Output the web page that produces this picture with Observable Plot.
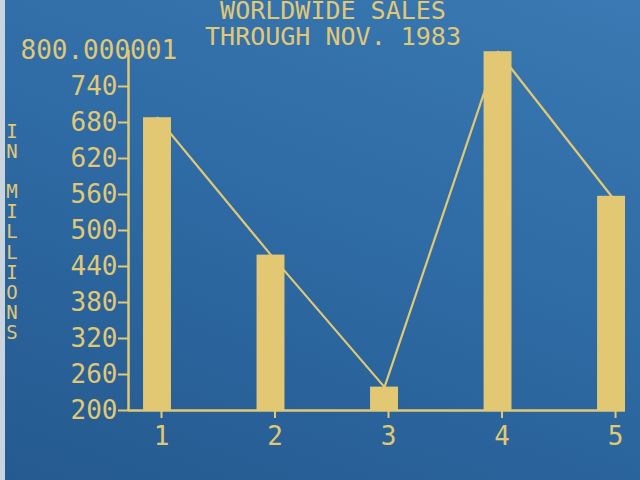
<!DOCTYPE html>
<html>
<head>
<meta charset="utf-8">
<script src="https://cdn.jsdelivr.net/npm/d3@7"></script>
<script src="https://cdn.jsdelivr.net/npm/@observablehq/plot@0.6"></script>
<style>
  html, body { margin: 0; padding: 0; }
  #wrap {
    position: relative; width: 640px; height: 480px; overflow: hidden;
    background: linear-gradient(200deg, #3a79b3 0%, #2f6ba5 45%, #245a8f 100%);
    font-family: "DejaVu Sans Mono", monospace; color: #e2c873;
  }
  #edge { position: absolute; left: 0; top: 0; width: 5px; height: 480px; background: #c9d4de; }
  #chart { position: absolute; left: 0; top: 0; }
  .title { position: absolute; left: 333px; transform: translateX(-50%); font-size: 25px; line-height: 25px; white-space: pre; }
  #ylab { position: absolute; left: 5px; top: 121px; font-size: 19px; line-height: 20.1px; white-space: pre; text-align: center; width: 14px; }
</style>
</head>
<body>
<div id="wrap">
  <div id="edge"></div>
  <div id="chart"></div>
  <div class="title" id="t1" style="top:-2px"></div>
  <div class="title" id="t2" style="top:24px"></div>
  <div id="ylab"></div>
</div>
<script>
const titleLines = ["WORLDWIDE SALES", "THROUGH NOV. 1983"];
const yLabel = "IN MILLIONS";
const categories = [1, 2, 3, 4, 5];
const sales = [688, 459, 239, 798, 557];
const yTicks = [200, 260, 320, 380, 440, 500, 560, 620, 680, 740];
const yTopValue = 800;
const yTopLabel = "800.000001";

const yellow = "#e2c873";
const data = categories.map((c, i) => ({cat: c, value: sales[i]}));
const half = 0.123;
const xmin = 0.7445, xmax = 5.123;

const chart = Plot.plot({
  width: 640,
  height: 480,
  marginLeft: 128,
  marginRight: 15,
  marginTop: 50,
  marginBottom: 70,
  style: {background: "transparent", color: yellow, fontFamily: "DejaVu Sans Mono, monospace"},
  x: {domain: [xmin, xmax], axis: null},
  y: {domain: [200, yTopValue], axis: null},
  marks: [
    Plot.rectY(data, {x1: d => d.cat - half, x2: d => d.cat + half, y1: 200, y2: "value", fill: yellow}),
    Plot.line(data, {x: "cat", y: "value", stroke: yellow, strokeWidth: 2.2}),
    Plot.ruleY([200], {stroke: yellow, strokeWidth: 2.5}),
    Plot.ruleX([xmin], {stroke: yellow, strokeWidth: 2.5}),
    Plot.axisY(yTicks, {label: null, tickSize: 10, tickPadding: 1, fontSize: 26, stroke: yellow, fill: yellow, strokeWidth: 2, tickFormat: "d"}),
    Plot.axisX(categories, {label: null, tickSize: 8, tickPadding: 8, fontSize: 26, stroke: yellow, fill: yellow, strokeWidth: 2, dx: 4, tickFormat: "d"}),
    Plot.text([yTopValue], {y: d => d, text: () => yTopLabel, frameAnchor: "left", textAnchor: "start", dx: -108, fontSize: 26, fill: yellow})
  ]
});
document.getElementById("chart").appendChild(chart);
document.getElementById("t1").textContent = titleLines[0];
document.getElementById("t2").textContent = titleLines[1];
document.getElementById("ylab").textContent = yLabel.split("").join("\n");
</script>
</body>
</html>
